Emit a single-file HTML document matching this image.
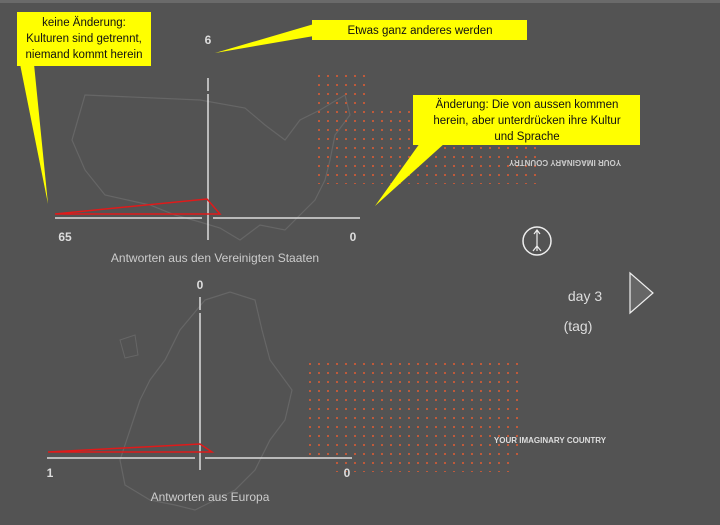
<!DOCTYPE html>
<html><head><meta charset="utf-8"><style>
html,body{margin:0;padding:0;background:#535353;}
svg{display:block;font-family:"Liberation Sans",sans-serif;}
</style></head><body>
<svg width="720" height="525" viewBox="0 0 720 525" xmlns="http://www.w3.org/2000/svg">
<defs>
<pattern id="dots" x="0" y="0" width="9" height="9" patternUnits="userSpaceOnUse">
<rect x="3" y="3" width="2" height="2" fill="#c05a3a"/>
</pattern>
</defs>
<rect width="720" height="525" fill="#535353"/>
<rect x="0" y="0" width="720" height="3" fill="#6a6a6a"/>

<path d="M85,95 L200,100 L245,108 L265,125 L285,140 L300,120 L320,110 L345,95 L350,115 L335,135 L330,160 L325,180 L315,200 L300,215 L285,230 L260,225 L240,240 L220,228 L200,222 L175,215 L150,205 L105,195 L85,170 L72,140 Z" fill="none" stroke="#666" stroke-width="1.2"/>
<rect x="312" y="104" width="225" height="80" fill="url(#dots)"/>
<rect x="312" y="75" width="60" height="30" fill="url(#dots)"/>
<text x="565" y="166" font-size="8" font-weight="bold" fill="#ccc" text-anchor="middle" transform="rotate(180 565 163)">YOUR IMAGINARY COUNTRY</text>

<line x1="55" y1="218" x2="202" y2="218" stroke="#ddd" stroke-width="1.5"/>
<line x1="213" y1="218" x2="360" y2="218" stroke="#ddd" stroke-width="1.5"/>
<line x1="208" y1="78" x2="208" y2="240" stroke="#ddd" stroke-width="1.5" stroke-dasharray="13,3,150,4,40"/>
<polygon points="55,214 207,199 220,214" fill="none" stroke="#e01a1a" stroke-width="1.5"/>
<text x="208" y="44" font-size="12" font-weight="bold" fill="#ddd" text-anchor="middle">6</text>
<text x="65" y="241" font-size="12" font-weight="bold" fill="#ddd" text-anchor="middle">65</text>
<text x="353" y="241" font-size="12" font-weight="bold" fill="#ddd" text-anchor="middle">0</text>
<text x="215" y="262" font-size="12" fill="#ccc" text-anchor="middle">Antworten aus den Vereinigten Staaten</text>

<polygon points="20,64 34,64 48,204" fill="#ffff00"/>
<rect x="17" y="12" width="134" height="54" fill="#ffff00"/>
<text font-size="11.5" fill="#111" text-anchor="middle"><tspan x="84" y="26">keine Änderung:</tspan><tspan x="84" y="42">Kulturen sind getrennt,</tspan><tspan x="84" y="58">niemand kommt herein</tspan></text>

<polygon points="314,24 314,36 215,53" fill="#ffff00"/>
<rect x="312" y="20" width="215" height="20" fill="#ffff00"/>
<text x="420" y="34" font-size="11.5" fill="#111" text-anchor="middle">Etwas ganz anderes werden</text>

<polygon points="420,143 445,143 375,206" fill="#ffff00"/>
<rect x="413" y="95" width="227" height="50" fill="#ffff00"/>
<text font-size="11.5" fill="#111" text-anchor="middle"><tspan x="527" y="108">Änderung:  Die von aussen kommen</tspan><tspan x="527" y="124">herein, aber unterdrücken ihre Kultur</tspan><tspan x="527" y="140">und Sprache</tspan></text>

<circle cx="537" cy="241" r="14" fill="none" stroke="#eee" stroke-width="1.5"/>
<line x1="537" y1="231" x2="537" y2="251" stroke="#eee" stroke-width="1.2"/>
<path d="M534,234 L537,230 L540,234 M533,251 L537,246 L541,251" fill="none" stroke="#eee" stroke-width="1.2"/>

<text x="585" y="301" font-size="14" fill="#ddd" text-anchor="middle">day 3</text>
<text x="578" y="331" font-size="14" fill="#ddd" text-anchor="middle">(tag)</text>
<polygon points="630,273 653,293 630,313" fill="#666" stroke="#eee" stroke-width="1.2"/>

<path d="M205,300 L230,292 L255,300 L262,330 L270,360 L292,390 L285,420 L270,440 L255,470 L235,490 L215,500 L195,510 L175,505 L150,500 L125,485 L120,460 L130,430 L140,400 L150,380 L165,360 L180,330 Z" fill="none" stroke="#666" stroke-width="1.2"/>
<path d="M120,340 L135,335 L138,355 L125,358 Z" fill="none" stroke="#666" stroke-width="1"/>
<rect x="302" y="362" width="220" height="100" fill="url(#dots)"/>
<rect x="330" y="460" width="180" height="12" fill="url(#dots)"/>
<text x="550" y="443" font-size="8" font-weight="bold" fill="#ddd" text-anchor="middle">YOUR IMAGINARY COUNTRY</text>

<line x1="47" y1="458" x2="195" y2="458" stroke="#ddd" stroke-width="1.5"/>
<line x1="205" y1="458" x2="352" y2="458" stroke="#ddd" stroke-width="1.5"/>
<line x1="200" y1="297" x2="200" y2="470" stroke="#ddd" stroke-width="1.5" stroke-dasharray="13,3,160,4"/>
<polygon points="48,452 200,444 212,452" fill="none" stroke="#e01a1a" stroke-width="1.5"/>
<text x="200" y="289" font-size="12" font-weight="bold" fill="#ddd" text-anchor="middle">0</text>
<text x="50" y="477" font-size="12" font-weight="bold" fill="#ddd" text-anchor="middle">1</text>
<text x="347" y="477" font-size="12" font-weight="bold" fill="#ddd" text-anchor="middle">0</text>
<text x="210" y="501" font-size="12" fill="#ccc" text-anchor="middle">Antworten aus Europa</text>
</svg>
</body></html>
